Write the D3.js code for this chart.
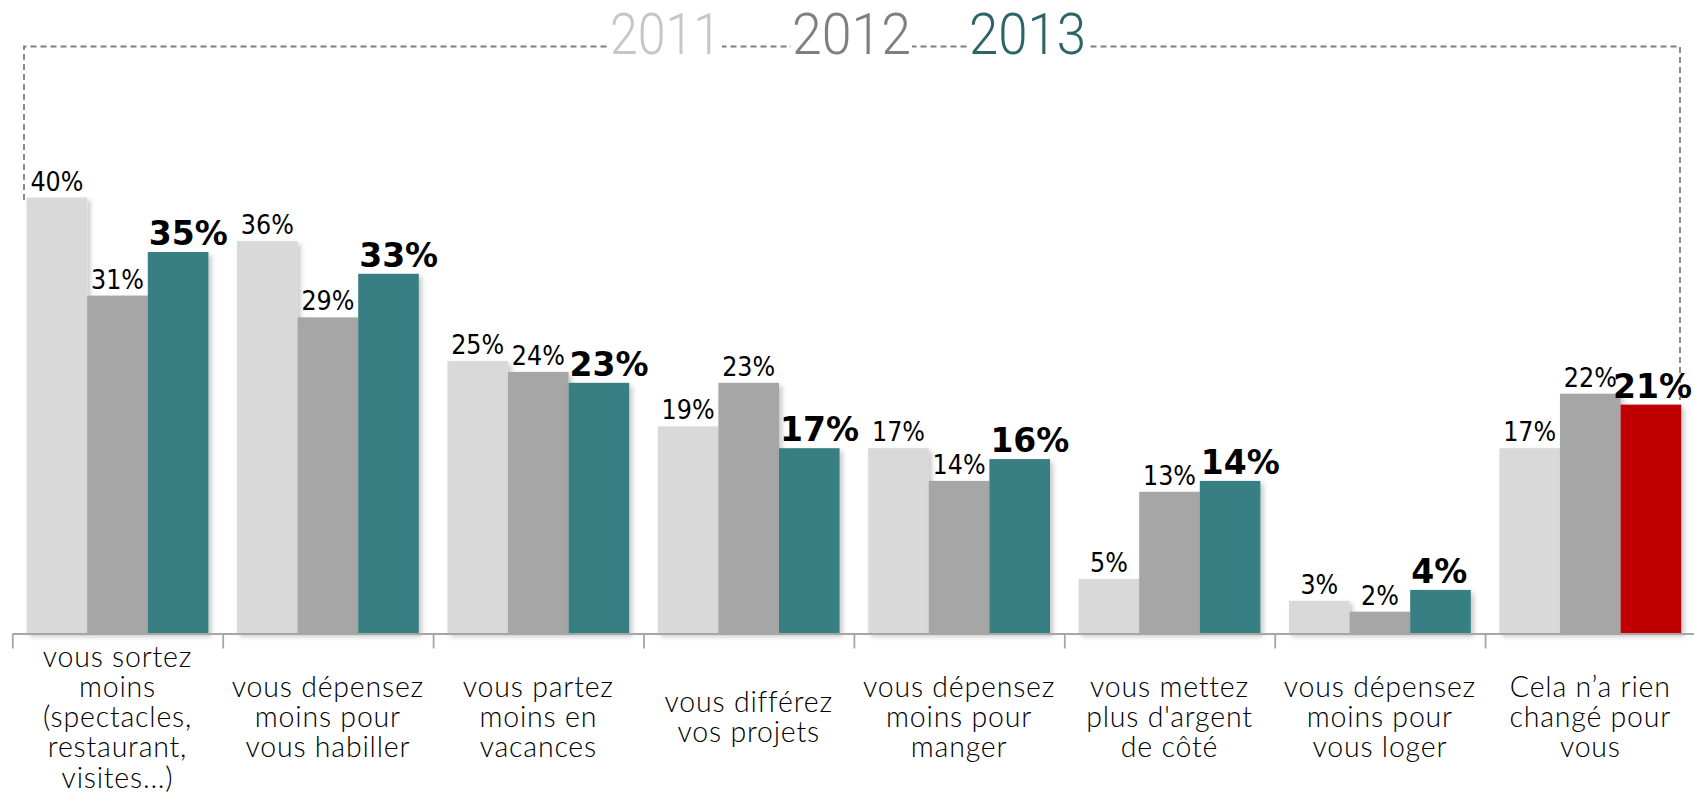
<!DOCTYPE html>
<html>
<head>
<meta charset="utf-8">
<script src="https://cdn.jsdelivr.net/npm/d3@7"></script>
<style>
  html, body { margin: 0; padding: 0; background: #fff; }
  svg { display: block; }
</style>
</head>
<body>
<svg id="chart" width="1694" height="796"></svg>
<script>
// ---- data ----
const categories = [
  "vous sortez|moins|(spectacles,|restaurant,|visites...)",
  "vous dépensez|moins pour|vous habiller",
  "vous partez|moins en|vacances",
  "vous différez|vos projets",
  "vous dépensez|moins pour|manger",
  "vous mettez|plus d'argent|de côté",
  "vous dépensez|moins pour|vous loger",
  "Cela n’a rien|changé pour|vous"
];
const years = ["2011", "2012", "2013"];
const values2011 = [40, 36, 25, 19, 17, 5, 3, 17];
const values2012 = [31, 29, 24, 23, 14, 13, 2, 22];
const values2013 = [35, 33, 23, 17, 16, 14, 4, 21];
const seriesValues = [values2011, values2012, values2013];
const seriesColors = ["#d9d9d9", "#a6a6a6", "#377f84"];
const highlightColor = "#c00000";
const legendColors = ["#c6c6c6", "#7f7f7f", "#2c6467"];

// ---- layout ----
const W = 1694;
const svg = d3.select("#chart");
const baseY = 633.5;
const left = 12.3, right = 1695.5;

const x0 = d3.scaleBand().domain(categories).range([left, right])
  .paddingInner(0.136).paddingOuter(0.068);
const x1 = d3.scaleBand().domain(years).range([0, x0.bandwidth()]);
const y = d3.scaleLinear().domain([0, 40]).range([baseY, baseY - 436]);

const defs = svg.append("defs");
const f = defs.append("filter").attr("id", "shadow")
  .attr("x", "-20%").attr("y", "-20%").attr("width", "150%").attr("height", "150%");
f.append("feDropShadow").attr("dx", 3).attr("dy", 3).attr("stdDeviation", 2.5)
  .attr("flood-color", "#000").attr("flood-opacity", 0.22);

// dashed frame
svg.append("path")
  .attr("d", "M24,200 V46.5 H1680 V400")
  .attr("fill", "none").attr("stroke", "#7f7f7f")
  .attr("stroke-width", 1.8).attr("stroke-dasharray", "6,4");

// legend
const legendPos = [{x: 610, w: 111}, {x: 792, w: 119}, {x: 969, w: 117}];
years.forEach((yr, i) => {
  const p = legendPos[i];
  svg.append("rect").attr("x", p.x - 1).attr("y", 10).attr("width", p.w + 2).attr("height", 50)
    .attr("fill", "#fff");
  svg.append("text")
    .attr("x", p.x).attr("y", 54)
    .attr("textLength", p.w).attr("lengthAdjust", "spacingAndGlyphs")
    .attr("font-family", "Roboto").attr("font-weight", 300)
    .attr("font-size", 57).attr("fill", legendColors[i])
    .text(yr);
});

// bars
const groups = svg.append("g").selectAll("g").data(categories).join("g")
  .attr("transform", d => `translate(${x0(d)},0)`);

groups.each(function(cat, ci) {
  const g = d3.select(this);
  years.forEach((yr, si) => {
    const v = seriesValues[si][ci];
    let color = seriesColors[si];
    if (si === 2 && ci === categories.length - 1) color = highlightColor;
    g.append("rect")
      .attr("x", x1(yr)).attr("width", x1.bandwidth())
      .attr("y", y(v)).attr("height", baseY - y(v))
      .attr("fill", color)
      .attr("filter", "url(#shadow)");
  });
});

// axis
const xl = d3.scaleLinear().domain([0, categories.length]).range([left, right]);
const axis = svg.append("g").attr("transform", `translate(0,${baseY})`)
  .call(d3.axisBottom(xl).tickValues(d3.range(0, categories.length + 1))
    .tickSize(15).tickSizeOuter(0).tickFormat(""));
axis.select(".domain").attr("stroke", "#a6a6a6").attr("stroke-width", 2.2);
axis.selectAll(".tick line").attr("stroke", "#a6a6a6").attr("stroke-width", 1.8);

// value labels
groups.each(function(cat, ci) {
  const g = d3.select(this);
  const gx = x0(cat);
  years.forEach((yr, si) => {
    const v = seriesValues[si][ci];
    const bold = si === 2;
    const t = g.append("text")
      .attr("x", bold ? x1(yr) + 1 : x1(yr) + x1.bandwidth() / 2)
      .attr("y", y(v) - 7)
      .attr("text-anchor", bold ? "start" : "middle")
      .attr("font-family", bold ? "DejaVu Sans" : "DejaVu Sans Condensed")
      .attr("font-weight", bold ? "bold" : "normal")
      .attr("font-size", bold ? 33 : 26.5)
      .attr("fill", "#000")
      .text(v + "%");
    if (bold) {
      const len = t.node().getComputedTextLength();
      const endX = gx + x1(yr) + 1 + len;
      if (endX > W - 2) t.attr("x", x1(yr) + 1 - (endX - (W - 2)));
    }
  });
});

// category labels
const lineH = 30.25, centerY = 727;
groups.each(function(cat) {
  const lines = cat.split("|");
  const t = d3.select(this).append("text")
    .attr("text-anchor", "middle")
    .attr("font-family", "Lato")
    .attr("font-weight", 300)
    .attr("font-size", 28.5)
    .attr("letter-spacing", 0.8)
    .attr("fill", "#000");
  lines.forEach((ln, i) => {
    t.append("tspan")
      .attr("x", x0.bandwidth() / 2)
      .attr("y", centerY + (i - (lines.length - 1) / 2) * lineH)
      .text(ln);
  });
});
</script>
</body>
</html>
